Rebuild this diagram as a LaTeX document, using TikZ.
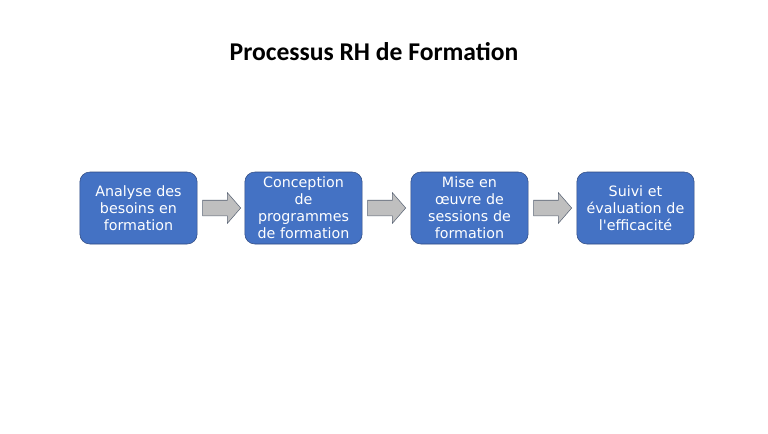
\documentclass[tikz,border=0pt]{standalone}
\usepackage{fontspec}
\setmainfont{DejaVu Sans}
\newfontfamily\titlefont{Carlito}
\usetikzlibrary{shapes.arrows, calc}
\definecolor{boxblue}{HTML}{4472C4}
\definecolor{boxedge}{HTML}{2F4A80}
\definecolor{arrowgray}{HTML}{BFBFBF}
\definecolor{arrowedge}{HTML}{5A6475}
\tikzset{
    etape/.style={draw=boxedge, fill=boxblue, rounded corners=7.5pt, thin,
        minimum width=87.75pt, minimum height=54pt, inner sep=1pt,
        text width=86pt, align=center, text=white,
        font=\fontsize{10.7}{12.75}\selectfont},
    fleche/.style={single arrow, draw=arrowedge, fill=arrowgray, thin,
        minimum height=28.5pt, inner sep=0pt, anchor=tail,
        single arrow head extend=5.6pt, single arrow tip angle=98}
}
\begin{document}
\begin{tikzpicture}[x=0.75pt, y=-0.75pt]
        \useasboundingbox (0,0) rectangle (768,433);
        % Title:
        \node [font=\titlefont\bfseries\fontsize{19.2}{23}\selectfont] (titre) at (374,52) {Processus RH de Formation};

        % Steps of the process:
        \node [etape] (analyse) at (138.5,208) {Analyse des besoins en formation};
        \node [etape] (conception) at (303.5,208) {Conception\\de\\programmes\\de formation};
        \node [etape] (sessions) at (469.5,208) {Mise en\\\oe uvre de\\sessions de\\formation};
        \node [etape] (suivi) at (635.5,208) {Suivi et\\évaluation de\\l\textquotesingle efficacité};

        % Block arrows between the steps:
        \node [fleche] (f1) at ($(analyse.east)+(5,0)$) {\rule{0pt}{11.25pt}};
        \node [fleche] (f2) at ($(conception.east)+(5,0)$) {\rule{0pt}{11.25pt}};
        \node [fleche] (f3) at ($(sessions.east)+(5,0)$) {\rule{0pt}{11.25pt}};
\end{tikzpicture}
\end{document}
